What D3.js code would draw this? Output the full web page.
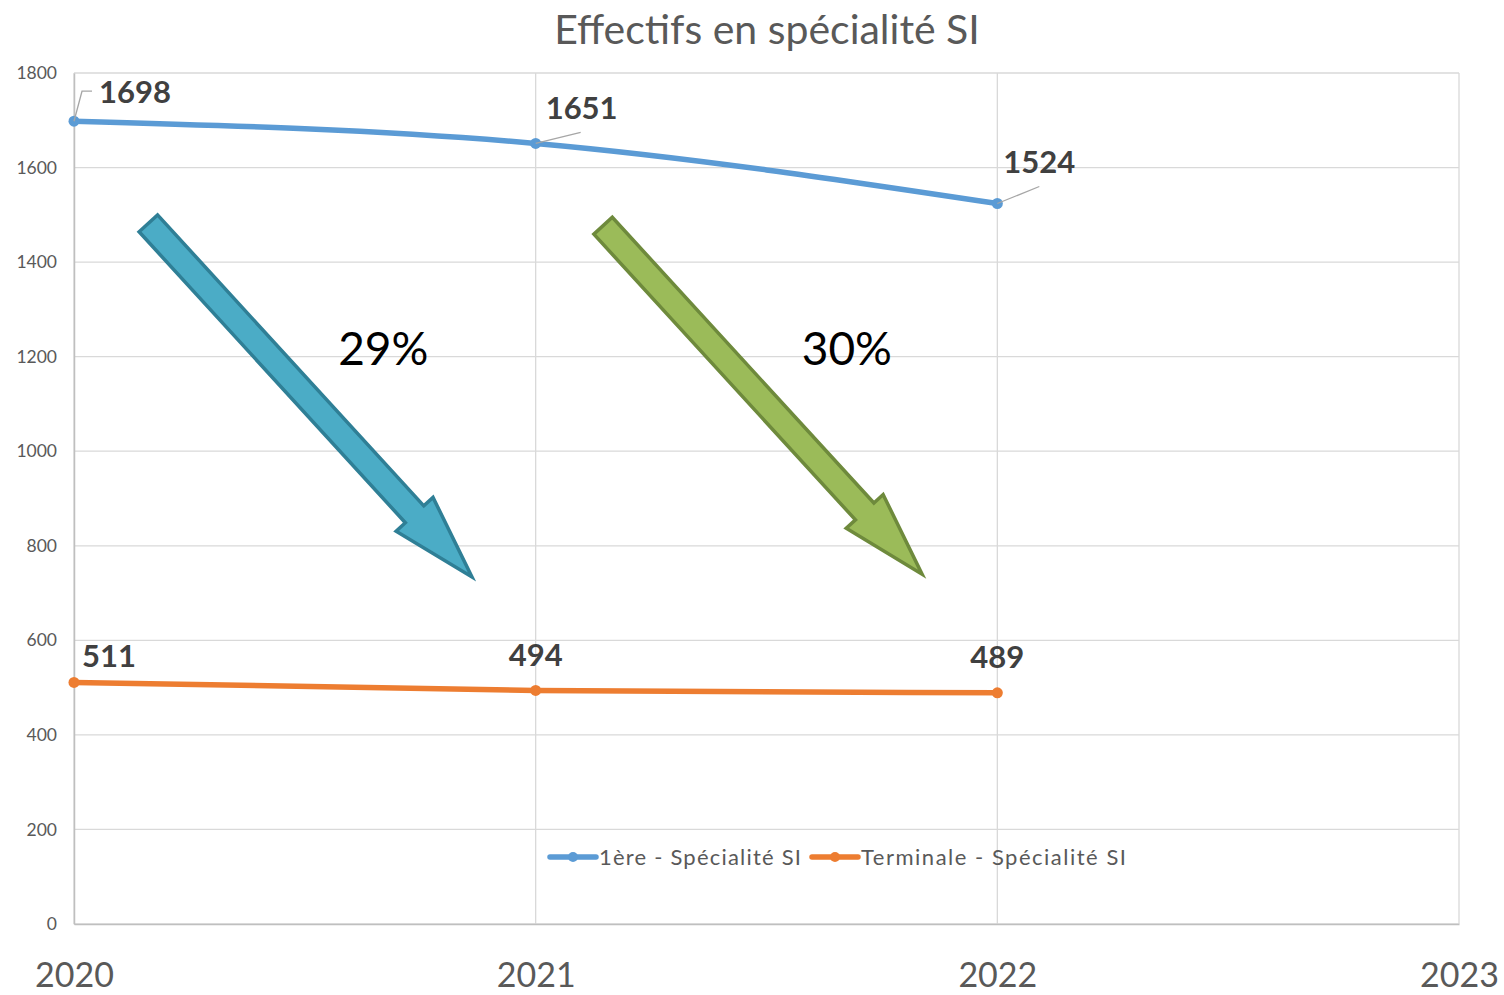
<!DOCTYPE html>
<html>
<head>
<meta charset="utf-8">
<script src="https://cdn.jsdelivr.net/npm/d3@7"></script>
<style>
  html, body { margin: 0; padding: 0; background: #fff; }
  svg { display: block; font-family: Lato, "Open Sans", sans-serif; }
</style>
</head>
<body>
<svg id="chart" width="1504" height="995"></svg>
<script>
// Enrolment figures per school year
const years = [2020, 2021, 2022];
const xTicks = [2020, 2021, 2022, 2023];
const yTicks = [0, 200, 400, 600, 800, 1000, 1200, 1400, 1600, 1800];
const premiere = [1698, 1651, 1524];
const terminale = [511, 494, 489];
const seriesNames = ["1ère - Spécialité SI", "Terminale - Spécialité SI"];
const seriesColors = ["#5B9BD5", "#ED7D31"];
// Trend arrows: start/end in (year, value) space, with their percent captions
const trendArrows = [
  { from: [2020.161, 1482], to: [2020.862, 734], label: "29%", fill: "#4BACC6", stroke: "#2F7F96" },
  { from: [2021.146, 1477], to: [2021.837, 740], label: "30%", fill: "#9BBB59", stroke: "#6E8A3C" }
];
const trendLabelPos = [[2020.670, 1200], [2021.674, 1200]];

const svg = d3.select("#chart");
const x = d3.scaleLinear().domain([2020, 2023]).range([74, 1459]);
const y = d3.scaleLinear().domain([0, 1800]).range([924, 73]);

// Gridlines
svg.append("g").selectAll("line").data(yTicks).join("line")
  .attr("x1", x(2020)).attr("x2", x(2023))
  .attr("y1", d => y(d)).attr("y2", d => y(d))
  .attr("stroke", "#d9d9d9").attr("stroke-width", 1.3);
svg.append("g").selectAll("line").data(xTicks).join("line")
  .attr("x1", d => x(d)).attr("x2", d => x(d))
  .attr("y1", y(0)).attr("y2", y(1800))
  .attr("stroke", "#d9d9d9").attr("stroke-width", 1.3);

// Axes
const yAxis = d3.axisLeft(y).tickValues(yTicks).tickFormat(d3.format("d")).tickSize(0).tickPadding(17);
const gy = svg.append("g").attr("transform", `translate(${x(2020)},0)`).call(yAxis);
gy.select(".domain").attr("stroke", "#bfbfbf").attr("stroke-width", 1.5);
gy.selectAll("text").attr("font-size", 17.5).attr("fill", "#595959")
  .attr("font-family", "Lato, sans-serif");

const xAxis = d3.axisBottom(x).tickValues(xTicks).tickFormat(d3.format("d")).tickSize(0).tickPadding(39);
const gx = svg.append("g").attr("transform", `translate(0,${y(0)})`).call(xAxis);
gx.select(".domain").attr("stroke", "#bfbfbf").attr("stroke-width", 1.5);
gx.selectAll("text").attr("font-size", 34).attr("fill", "#595959")
  .attr("font-family", "Lato, sans-serif");

// Title
svg.append("text").attr("x", 767).attr("y", 44).attr("text-anchor", "middle")
  .attr("font-size", 41).attr("fill", "#595959").text("Effectifs en spécialité SI");

// Trend arrows
function arrowPath(a) {
  const x0 = x(a.from[0]), y0 = y(a.from[1]);
  const x1 = x(a.to[0]), y1 = y(a.to[1]);
  const dx = x1 - x0, dy = y1 - y0, len = Math.hypot(dx, dy);
  const ux = dx / len, uy = dy / len, nx = -uy, ny = ux;
  const sw = 12.5, hw = 25, hl = 85;
  const bx = x1 - ux * hl, by = y1 - uy * hl;
  const p = [
    [x0 + nx * sw, y0 + ny * sw],
    [bx + nx * sw, by + ny * sw],
    [bx + nx * hw, by + ny * hw],
    [x1, y1],
    [bx - nx * hw, by - ny * hw],
    [bx - nx * sw, by - ny * sw],
    [x0 - nx * sw, y0 - ny * sw]
  ];
  return "M" + p.map(d => d.join(",")).join("L") + "Z";
}
svg.append("g").selectAll("path").data(trendArrows).join("path")
  .attr("d", arrowPath).attr("fill", d => d.fill).attr("stroke", d => d.stroke)
  .attr("stroke-width", 3.5).attr("stroke-linejoin", "miter");
svg.append("g").selectAll("text").data(trendArrows).join("text")
  .attr("x", (d, i) => x(trendLabelPos[i][0])).attr("y", (d, i) => y(trendLabelPos[i][1]) + 8)
  .attr("text-anchor", "middle").attr("font-size", 46).attr("fill", "#000")
  .text(d => d.label);

// Series lines
const line = d3.line().x((d, i) => x(years[i])).y(d => y(d)).curve(d3.curveMonotoneX);
[premiere, terminale].forEach((vals, si) => {
  svg.append("path").datum(vals).attr("d", line).attr("fill", "none")
    .attr("stroke", seriesColors[si]).attr("stroke-width", 5.5).attr("stroke-linecap", "round");
  svg.append("g").selectAll("circle").data(vals).join("circle")
    .attr("cx", (d, i) => x(years[i])).attr("cy", d => y(d)).attr("r", 5.5)
    .attr("fill", seriesColors[si]);
});

// Data labels (offsets in px relative to the point) with leader lines for the top series
const labelOffsets = [
  [[25, -18, "start"], [10, -24, "start"], [6, -30, "start"]],
  [[8, -15, "start"], [0, -24, "middle"], [0, -25, "middle"]]
];
const leaders = [
  [[[0, 0], [8, -30], [18, -30]], [[0, 0], [45, -11]], [[0, 0], [42, -17]]]
];
[premiere, terminale].forEach((vals, si) => {
  vals.forEach((v, i) => {
    const px = x(years[i]), py = y(v);
    if (leaders[si]) {
      svg.append("path")
        .attr("d", d3.line()(leaders[si][i].map(o => [px + o[0], py + o[1]])))
        .attr("fill", "none").attr("stroke", "#a6a6a6").attr("stroke-width", 1.3);
    }
    const o = labelOffsets[si][i];
    svg.append("text").attr("x", px + o[0]).attr("y", py + o[1])
      .attr("text-anchor", o[2]).attr("font-size", 31).attr("font-weight", "bold")
      .attr("fill", "#404040").text(v);
  });
});

// Legend
const legendItems = [{ x0: 548, tx: 599, w: 202 }, { x0: 810, tx: 861, w: 265 }];
const lg = svg.append("g");
legendItems.forEach((it, i) => {
  lg.append("line").attr("x1", it.x0 + 2).attr("x2", it.x0 + 48).attr("y1", 857).attr("y2", 857)
    .attr("stroke", seriesColors[i]).attr("stroke-width", 5.5).attr("stroke-linecap", "round");
  lg.append("circle").attr("cx", it.x0 + 25).attr("cy", 857).attr("r", 5).attr("fill", seriesColors[i]);
  lg.append("text").attr("x", it.tx).attr("y", 865).attr("font-size", 22)
    .attr("textLength", it.w).attr("lengthAdjust", "spacing")
    .attr("fill", "#595959").text(seriesNames[i]);
});
</script>
</body>
</html>
